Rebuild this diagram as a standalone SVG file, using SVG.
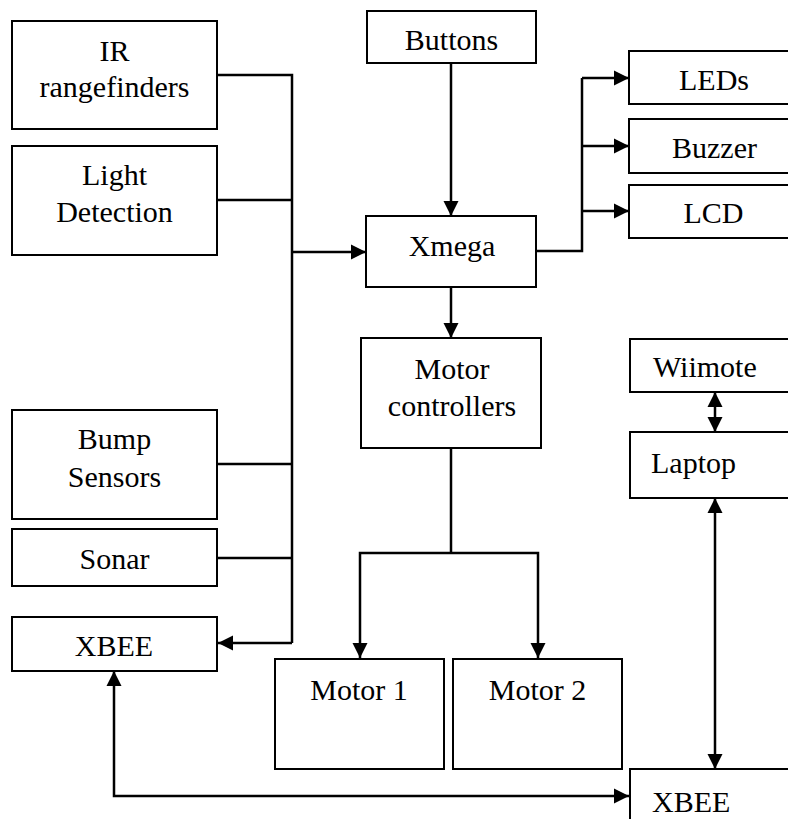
<svg xmlns="http://www.w3.org/2000/svg" width="788" height="819" viewBox="0 0 788 819">
<style>
.box{fill:#fff;stroke:#000;stroke-width:2}
.ln{fill:none;stroke:#000;stroke-width:2.5}
</style>
<defs>
<marker id="ah" markerUnits="userSpaceOnUse" markerWidth="16" markerHeight="16" viewBox="0 0 16 16" refX="15" refY="8" orient="auto-start-reverse">
<path d="M0,0.5 L15,8 L0,15.5 z" fill="#000"/>
</marker>
</defs>
<rect width="788" height="819" fill="#fff"/>
<g id="connectors">
<polyline class="ln" points="217,75 292,75 292,643"/>
<line class="ln" x1="217" y1="200" x2="292" y2="200"/>
<line class="ln" x1="217" y1="464" x2="292" y2="464"/>
<line class="ln" x1="217" y1="558" x2="292" y2="558"/>
<line class="ln" x1="292" y1="252" x2="366" y2="252" marker-end="url(#ah)"/>
<line class="ln" x1="292" y1="643" x2="218" y2="643" marker-end="url(#ah)"/>
<line class="ln" x1="451" y1="63" x2="451" y2="216" marker-end="url(#ah)"/>
<polyline class="ln" points="536,251 582,251 582,78"/>
<line class="ln" x1="582" y1="78" x2="629" y2="78" marker-end="url(#ah)"/>
<line class="ln" x1="582" y1="146" x2="629" y2="146" marker-end="url(#ah)"/>
<line class="ln" x1="582" y1="211" x2="629" y2="211" marker-end="url(#ah)"/>
<line class="ln" x1="451" y1="287" x2="451" y2="338" marker-end="url(#ah)"/>
<line class="ln" x1="451" y1="448" x2="451" y2="553"/>
<polyline class="ln" points="360,658 360,553 538,553 538,658" marker-start="url(#ah)" marker-end="url(#ah)"/>
<line class="ln" x1="715" y1="392" x2="715" y2="432" marker-start="url(#ah)" marker-end="url(#ah)"/>
<line class="ln" x1="715" y1="498" x2="715" y2="769" marker-start="url(#ah)" marker-end="url(#ah)"/>
<polyline class="ln" points="114,671 114,796 629,796" marker-start="url(#ah)" marker-end="url(#ah)"/>
</g>
<g font-family="Liberation Serif, Times New Roman, DejaVu Serif, serif" font-size="30" fill="#000">
<g id="ir"><rect class="box" x="12" y="21" width="205" height="108"/><text text-anchor="middle" x="114.5" y="61">IR</text><text text-anchor="middle" x="114.5" y="97">rangefinders</text></g>
<g id="light"><rect class="box" x="12" y="146" width="205" height="109"/><text text-anchor="middle" x="114.5" y="185">Light</text><text text-anchor="middle" x="114.5" y="222">Detection</text></g>
<g id="bump"><rect class="box" x="12" y="410" width="205" height="109"/><text text-anchor="middle" x="114.5" y="449">Bump</text><text text-anchor="middle" x="114.5" y="487">Sensors</text></g>
<g id="sonar"><rect class="box" x="12" y="529" width="205" height="57"/><text text-anchor="middle" x="114.5" y="569">Sonar</text></g>
<g id="xbee1"><rect class="box" x="12" y="617" width="205" height="54"/><text text-anchor="middle" x="114" y="656">XBEE</text></g>
<g id="buttons"><rect class="box" x="367" y="11" width="169" height="52"/><text text-anchor="middle" x="451.5" y="50">Buttons</text></g>
<g id="xmega"><rect class="box" x="366" y="216" width="170" height="71"/><text text-anchor="middle" x="452" y="256">Xmega</text></g>
<g id="leds"><rect class="box" x="629" y="51" width="180" height="53"/><text text-anchor="middle" x="714" y="90">LEDs</text></g>
<g id="buzzer"><rect class="box" x="629" y="119" width="180" height="54"/><text text-anchor="middle" x="714.5" y="158">Buzzer</text></g>
<g id="lcd"><rect class="box" x="629" y="185" width="180" height="53"/><text text-anchor="middle" x="713.5" y="223">LCD</text></g>
<g id="motorctl"><rect class="box" x="361" y="338" width="180" height="110"/><text text-anchor="middle" x="452" y="379">Motor</text><text text-anchor="middle" x="452" y="416">controllers</text></g>
<g id="wiimote"><rect class="box" x="630" y="339" width="180" height="53"/><text x="653" y="377">Wiimote</text></g>
<g id="laptop"><rect class="box" x="630" y="432" width="180" height="66"/><text x="651" y="473">Laptop</text></g>
<g id="motor1"><rect class="box" x="275" y="659" width="169" height="110"/><text text-anchor="middle" x="359" y="700">Motor 1</text></g>
<g id="motor2"><rect class="box" x="453" y="659" width="169" height="110"/><text text-anchor="middle" x="537.5" y="700">Motor 2</text></g>
<g id="xbee2"><rect class="box" x="630" y="769" width="180" height="70"/><text x="652" y="812">XBEE</text></g>
</g>
</svg>
